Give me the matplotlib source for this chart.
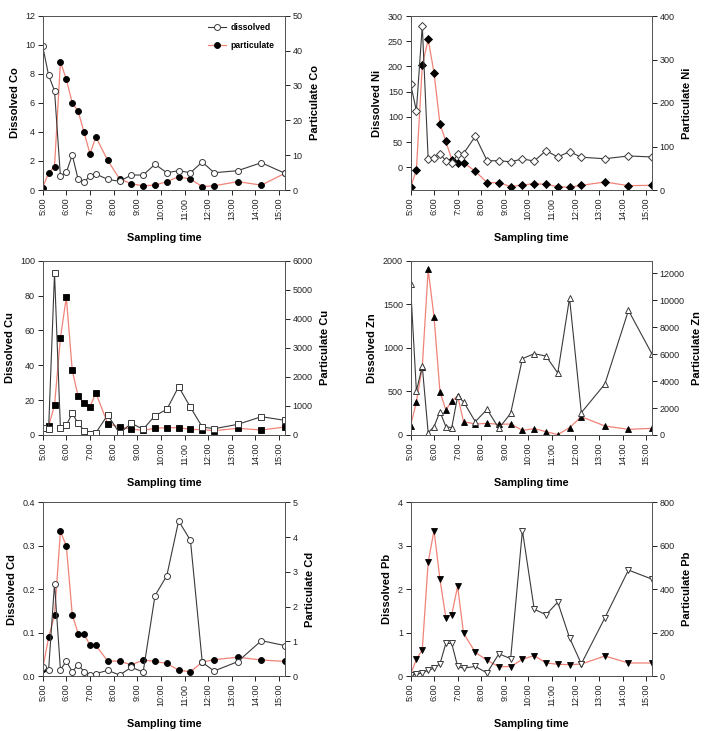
import matplotlib
matplotlib.use("Agg")
from matplotlib import pyplot as plt

plt.rcParams['font.family'] = ['Liberation Sans', 'DejaVu Sans']

# sampling times in hours
times = [5.0, 5.25, 5.5, 5.75, 6.0, 6.25, 6.5, 6.75, 7.0, 7.25, 7.75, 8.25,
         8.75, 9.25, 9.75, 10.25, 10.75, 11.25, 11.75, 12.25, 13.25, 14.25, 15.25]
hour_ticks = [5, 6, 7, 8, 9, 10, 11, 12, 13, 14, 15]
hour_labels = ["%d:00" % h for h in hour_ticks]

# dissolved / particulate values for each metal
co_diss = [9.9, 7.9, 6.83, 0.96, 1.22, 2.41, 0.73, 0.53, 0.99, 1.1, 0.73, 0.6,
           1.03, 1.03, 1.77, 1.19, 1.33, 1.19, 1.93, 1.19, 1.33, 1.88, 1.15]
co_part = [0.7, 4.9, 6.7, 36.8, 31.7, 25.0, 22.6, 16.5, 10.4, 15.2, 8.5, 3.2,
           1.8, 1.2, 1.4, 2.4, 3.8, 3.1, 1.0, 1.2, 2.4, 1.4, 4.8]

ni_diss = [166, 112, 281, 16, 18.5, 27, 13, 8, 26, 27, 61.5, 13,
           13, 11, 16.5, 12.5, 33, 20.5, 31, 20, 17, 22.5, 20.5]
ni_part = [6, 46, 287, 346, 269, 152, 112, 70, 63, 63, 43, 17,
           17, 7.7, 11.5, 14.6, 13, 7.7, 6.1, 10.7, 18.4, 10, 10.7]

cu_diss = [4, 3.3, 93, 3.8, 5.7, 12.4, 6.7, 2.5, 0.8, 1.3, 11.5, 1,
           6.7, 3.3, 11.1, 14.7, 27.7, 15.9, 4.6, 3.6, 6.1, 10.5, 8.4]
cu_part = [230, 310, 1020, 3350, 4740, 2225, 1330, 1090, 975, 1445, 390, 275,
           206, 160, 230, 252, 252, 195, 183, 150, 230, 172, 275]

zn_diss = [1728, 505, 788, 27, 96, 268, 96, 84, 444, 382, 153, 294,
           76, 248, 876, 933, 906, 711, 1572, 256, 585, 1430, 929]
zn_part = [668, 2450, 5074, 12300, 8740, 3218, 1856, 2500, 2920, 990, 817, 866,
           792, 817, 347, 470, 248, 30, 545, 1361, 668, 421, 495]

cd_diss = [0.0215, 0.0146, 0.2127, 0.0146, 0.0338, 0.01, 0.026, 0.01, 0.003, 0.0054, 0.013, 0.0023,
           0.02, 0.0092, 0.185, 0.231, 0.357, 0.3125, 0.0315, 0.0115, 0.033, 0.0814, 0.07]
cd_part = [0.21, 1.11, 1.75, 4.16, 3.74, 1.77, 1.22, 1.2, 0.89, 0.88, 0.43, 0.43,
           0.32, 0.46, 0.42, 0.36, 0.17, 0.12, 0.40, 0.47, 0.54, 0.46, 0.42]

pb_diss = [0.02, 0.04, 0.07, 0.13, 0.18, 0.28, 0.75, 0.75, 0.22, 0.18, 0.22, 0.07,
           0.51, 0.4, 3.35, 1.54, 1.41, 1.70, 0.88, 0.28, 1.34, 2.44, 2.23]
pb_part = [5, 77, 121, 525, 670, 445, 269, 283, 413, 197, 109, 72,
           43, 43, 77, 94, 60, 54, 52, 55, 92, 60, 60]

red = '#f08378'
grey = '#3a3a3a'
msizes = {'o': 4.3, 's': 4.0, 'D': 3.7, '^': 4.8, 'v': 4.8}

W, H = 709, 731
fig = plt.figure(figsize=(W / 100, H / 100), dpi=100)

def panel(px, metal, diss, part, marker, ylim1, yt1, ylim2, yt2, legend=False):
	# px = left, top, right, bottom in pixels
	l, t, r, b = px
	ax = fig.add_axes([l / W, 1 - b / H, (r - l) / W, (b - t) / H])
	ax2 = ax.twinx()
	ax.set_zorder(ax2.get_zorder() + 1)
	ax.patch.set_visible(False)
	ms = msizes[marker]
	ax2.plot(times, part, color=red, lw=0.9, marker=marker, ms=ms,
	         mfc='k', mec='k', mew=0.6, label='particulate')
	ax.plot(times, diss, color=grey, lw=0.8, marker=marker, ms=ms,
	        mfc='white', mec=grey, mew=0.7, label='dissolved')
	ax.set_xlim(5, 15.25)
	ax.set_ylim(*ylim1)
	ax.set_yticks(yt1)
	ax2.set_ylim(*ylim2)
	ax2.set_yticks(yt2)
	ax.set_xticks(hour_ticks)
	ax.set_xticklabels(hour_labels, rotation=90)
	for a in (ax, ax2):
		a.tick_params(direction='out', length=3.5, width=0.7, labelsize=6.5, colors='#222222', pad=2)
		for s in a.spines.values():
			s.set_linewidth(0.7)
			s.set_color('#555555')
	ax.set_ylabel('Dissolved ' + metal, fontsize=8, fontweight='bold', labelpad=4)
	ax2.set_ylabel('Particulate ' + metal, fontsize=8, fontweight='bold', labelpad=5)
	ax.set_xlabel('Sampling time', fontsize=7.8, fontweight='bold', labelpad=9)
	if legend:
		h1, l1 = ax.get_legend_handles_labels()
		h2, l2 = ax2.get_legend_handles_labels()
		ax.legend(h1 + h2, l1 + l2, loc='upper right', frameon=False,
		          handlelength=2.1, handletextpad=0.6, labelspacing=1.1,
		          borderaxespad=0, bbox_to_anchor=(0.972, 0.98),
		          prop={'weight': 'bold', 'size': 6.2})
	return ax

panel((42.7, 15.7, 285, 190), 'Co', co_diss, co_part, 'o',
      (0, 12), [0, 2, 4, 6, 8, 10, 12], (0, 50), [0, 10, 20, 30, 40, 50], legend=True)
panel((410.5, 16, 652, 190), 'Ni', ni_diss, ni_part, 'D',
      (-45, 300), [0, 50, 100, 150, 200, 250, 300], (0, 400), [0, 100, 200, 300, 400])
panel((42.7, 260.7, 285, 435), 'Cu', cu_diss, cu_part, 's',
      (0, 100), [0, 20, 40, 60, 80, 100], (0, 6000), [0, 1000, 2000, 3000, 4000, 5000, 6000])
panel((410.5, 260.7, 652, 435), 'Zn', zn_diss, zn_part, '^',
      (0, 2000), [0, 500, 1000, 1500, 2000], (0, 12950), [0, 2000, 4000, 6000, 8000, 10000, 12000])
panel((42.7, 502.3, 285, 676), 'Cd', cd_diss, cd_part, 'o',
      (0, 0.4), [0.0, 0.1, 0.2, 0.3, 0.4], (0, 5), [0, 1, 2, 3, 4, 5])
panel((410.5, 502.3, 652, 676), 'Pb', pb_diss, pb_part, 'v',
      (0, 4), [0, 1, 2, 3, 4], (0, 800), [0, 200, 400, 600, 800])

fig.savefig('out.png', dpi=100)
